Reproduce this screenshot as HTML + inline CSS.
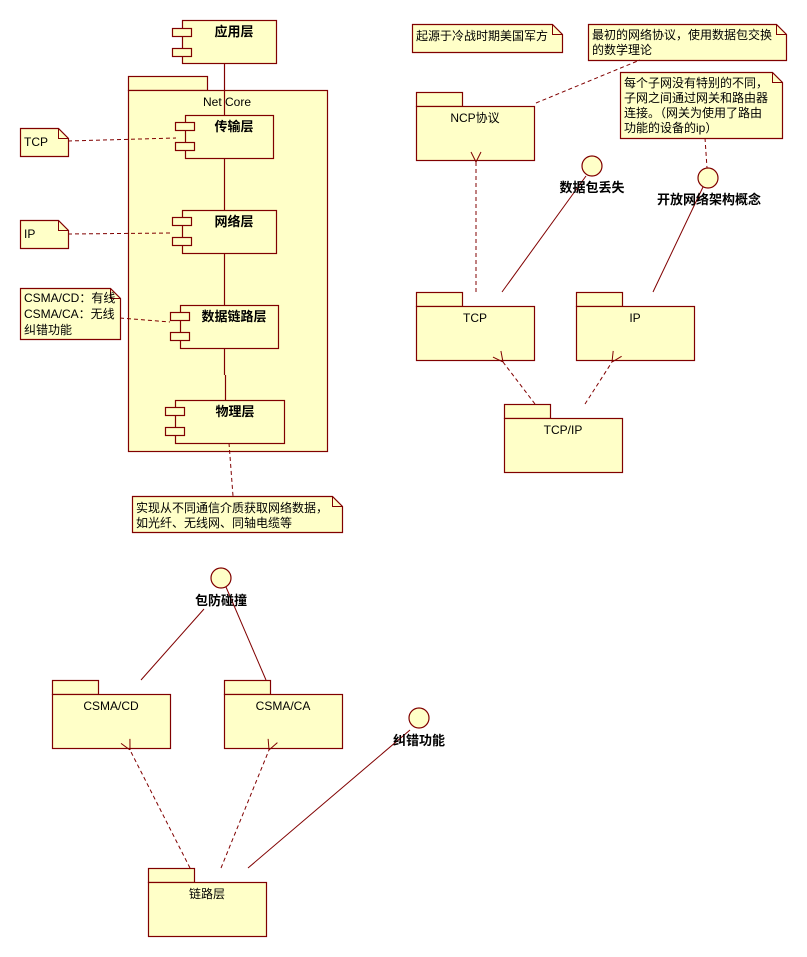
<!DOCTYPE html>
<html><head><meta charset="utf-8"><style>
html,body{margin:0;padding:0;background:#fff;}
svg{display:block;}
text{font-family:"Liberation Sans","Noto Sans CJK SC","WenQuanYi Zen Hei",sans-serif;font-size:12px;fill:#000;}
.b{font-weight:bold;font-size:13px;}
</style></head><body>
<svg width="807" height="957" viewBox="0 0 807 957" xmlns="http://www.w3.org/2000/svg">
<defs>
<marker id="oa" markerWidth="12" markerHeight="12" refX="0" refY="6" orient="auto" markerUnits="userSpaceOnUse">
<path d="M10,1 L0,6 L10,11" fill="none" stroke="#800000" stroke-width="1"/>
</marker>
</defs>
<g stroke="#800000" stroke-width="1.2" fill="#ffffc8">
<!-- Net Core package -->
<rect x="128.5" y="76.5" width="79" height="14"/>
<rect x="128.5" y="90.5" width="199" height="361"/>
</g>
<text x="227" y="106" text-anchor="middle" fill="#333">Net Core</text>
<g stroke="#800000" stroke-width="1.2" fill="none">
<!-- vertical connector -->
<line x1="224.5" y1="63" x2="224.5" y2="115"/>
<line x1="224.5" y1="158" x2="224.5" y2="210"/>
<line x1="224.5" y1="253" x2="224.5" y2="305"/>
<line x1="224.5" y1="348" x2="224.5" y2="375"/>
<line x1="225.5" y1="375" x2="225.5" y2="400"/>
</g>
<g stroke="#800000" stroke-width="1.2" fill="#ffffc8">
<!-- components -->
<rect x="182.5" y="20.5" width="94" height="43"/>
<rect x="172.5" y="28.5" width="19" height="8"/><rect x="172.5" y="48.5" width="19" height="8"/>
<rect x="185.5" y="115.5" width="88" height="43"/>
<rect x="175.5" y="122.5" width="19" height="8"/><rect x="175.5" y="142.5" width="19" height="8"/>
<rect x="182.5" y="210.5" width="94" height="43"/>
<rect x="172.5" y="217.5" width="19" height="8"/><rect x="172.5" y="237.5" width="19" height="8"/>
<rect x="180.5" y="305.5" width="98" height="43"/>
<rect x="170.5" y="312.5" width="19" height="8"/><rect x="170.5" y="332.5" width="19" height="8"/>
<rect x="175.5" y="400.5" width="109" height="43"/>
<rect x="165.5" y="407.5" width="19" height="8"/><rect x="165.5" y="427.5" width="19" height="8"/>
</g>
<text class="b" x="234" y="36" text-anchor="middle">应用层</text>
<text class="b" x="234" y="131" text-anchor="middle">传输层</text>
<text class="b" x="234" y="226" text-anchor="middle">网络层</text>
<text class="b" x="234" y="321" text-anchor="middle">数据链路层</text>
<text class="b" x="235" y="416" text-anchor="middle">物理层</text>

<!-- notes -->
<g stroke="#800000" stroke-width="1.2" fill="#ffffc8">
<path d="M20.5,128.5 H58.5 L68.5,138.5 V156.5 H20.5 Z"/>
<path d="M20.5,220.5 H58.5 L68.5,230.5 V248.5 H20.5 Z"/>
<path d="M20.5,288.5 H110.5 L120.5,298.5 V339.5 H20.5 Z"/>
<path d="M132.5,496.5 H332.5 L342.5,506.5 V532.5 H132.5 Z"/>
<path d="M412.5,24.5 H552.5 L562.5,34.5 V52.5 H412.5 Z"/>
<path d="M588.5,24.5 H776.5 L786.5,34.5 V60.5 H588.5 Z"/>
<path d="M620.5,72.5 H772.5 L782.5,82.5 V138.5 H620.5 Z"/>
</g>
<g stroke="#800000" stroke-width="1" fill="none">
<path d="M58.5,128.5 V138.5 H68.5"/><path d="M58.5,220.5 V230.5 H68.5"/>
<path d="M110.5,288.5 V298.5 H120.5"/><path d="M332.5,496.5 V506.5 H342.5"/>
<path d="M552.5,24.5 V34.5 H562.5"/><path d="M776.5,24.5 V34.5 H786.5"/>
<path d="M772.5,72.5 V82.5 H782.5"/>
</g>
<text x="24" y="146">TCP</text>
<text x="24" y="238">IP</text>
<text x="24" y="302">CSMA/CD：有线</text>
<text x="24" y="318">CSMA/CA：无线</text>
<text x="24" y="334">纠错功能</text>
<text x="136" y="512">实现从不同通信介质获取网络数据，</text>
<text x="136" y="527">如光纤、无线网、同轴电缆等</text>
<text x="416" y="40">起源于冷战时期美国军方</text>
<text x="592" y="39">最初的网络协议，使用数据包交换</text>
<text x="592" y="54">的数学理论</text>
<text x="624" y="87">每个子网没有特别的不同，</text>
<text x="624" y="102">子网之间通过网关和路由器</text>
<text x="624" y="117">连接。（网关为使用了路由</text>
<text x="624" y="132">功能的设备的ip）</text>

<!-- dashed note links -->
<g stroke="#800000" stroke-width="1" fill="none" stroke-dasharray="4,3">
<line x1="68" y1="141" x2="176" y2="138"/>
<line x1="68" y1="234" x2="172" y2="233"/>
<line x1="120" y1="318" x2="170" y2="322"/>
<line x1="229" y1="443" x2="233" y2="496"/>
<line x1="536" y1="103" x2="640" y2="60"/>
<line x1="705" y1="138" x2="707" y2="168"/>
</g>

<!-- packages -->
<g stroke="#800000" stroke-width="1.2" fill="#ffffc8">
<rect x="416.5" y="92.5" width="46" height="14"/><rect x="416.5" y="106.5" width="118" height="54"/>
<rect x="416.5" y="292.5" width="46" height="14"/><rect x="416.5" y="306.5" width="118" height="54"/>
<rect x="576.5" y="292.5" width="46" height="14"/><rect x="576.5" y="306.5" width="118" height="54"/>
<rect x="504.5" y="404.5" width="46" height="14"/><rect x="504.5" y="418.5" width="118" height="54"/>
<rect x="52.5" y="680.5" width="46" height="14"/><rect x="52.5" y="694.5" width="118" height="54"/>
<rect x="224.5" y="680.5" width="46" height="14"/><rect x="224.5" y="694.5" width="118" height="54"/>
<rect x="148.5" y="868.5" width="46" height="14"/><rect x="148.5" y="882.5" width="118" height="54"/>
<circle cx="592" cy="166" r="10"/>
<circle cx="708" cy="178" r="10"/>
<circle cx="221" cy="578" r="10"/>
<circle cx="419" cy="718" r="10"/>
</g>
<text x="475" y="122" text-anchor="middle" fill="#222">NCP协议</text>
<text x="475" y="322" text-anchor="middle" fill="#222">TCP</text>
<text x="635" y="322" text-anchor="middle" fill="#222">IP</text>
<text x="563" y="434" text-anchor="middle" fill="#222">TCP/IP</text>
<text x="111" y="710" text-anchor="middle" fill="#222">CSMA/CD</text>
<text x="283" y="710" text-anchor="middle" fill="#222">CSMA/CA</text>
<text x="207" y="898" text-anchor="middle" fill="#222">链路层</text>

<!-- solid lines to interfaces -->
<g stroke="#800000" stroke-width="1" fill="none">
<line x1="502" y1="292" x2="586" y2="176"/>
<line x1="653" y1="292" x2="703" y2="187"/>
<line x1="141" y1="680" x2="204" y2="609"/>
<line x1="266" y1="680" x2="226" y2="587"/>
<line x1="248" y1="868" x2="410" y2="730"/>
</g>
<text class="b" x="592" y="192" text-anchor="middle">数据包丢失</text>
<text class="b" x="709" y="204" text-anchor="middle">开放网络架构概念</text>
<text class="b" x="221" y="605" text-anchor="middle">包防碰撞</text>
<text class="b" x="419" y="745" text-anchor="middle">纠错功能</text>

<!-- dependency arrows -->
<g stroke="#800000" stroke-width="1" fill="none" stroke-dasharray="4,3" marker-end="url(#oa)">
<line x1="476" y1="292" x2="476" y2="162"/>
<line x1="535" y1="404" x2="503" y2="362"/>
<line x1="585" y1="404" x2="612" y2="362"/>
<line x1="190" y1="868" x2="130" y2="750"/>
<line x1="221" y1="868" x2="269" y2="750"/>
</g>
</svg>
</body></html>
